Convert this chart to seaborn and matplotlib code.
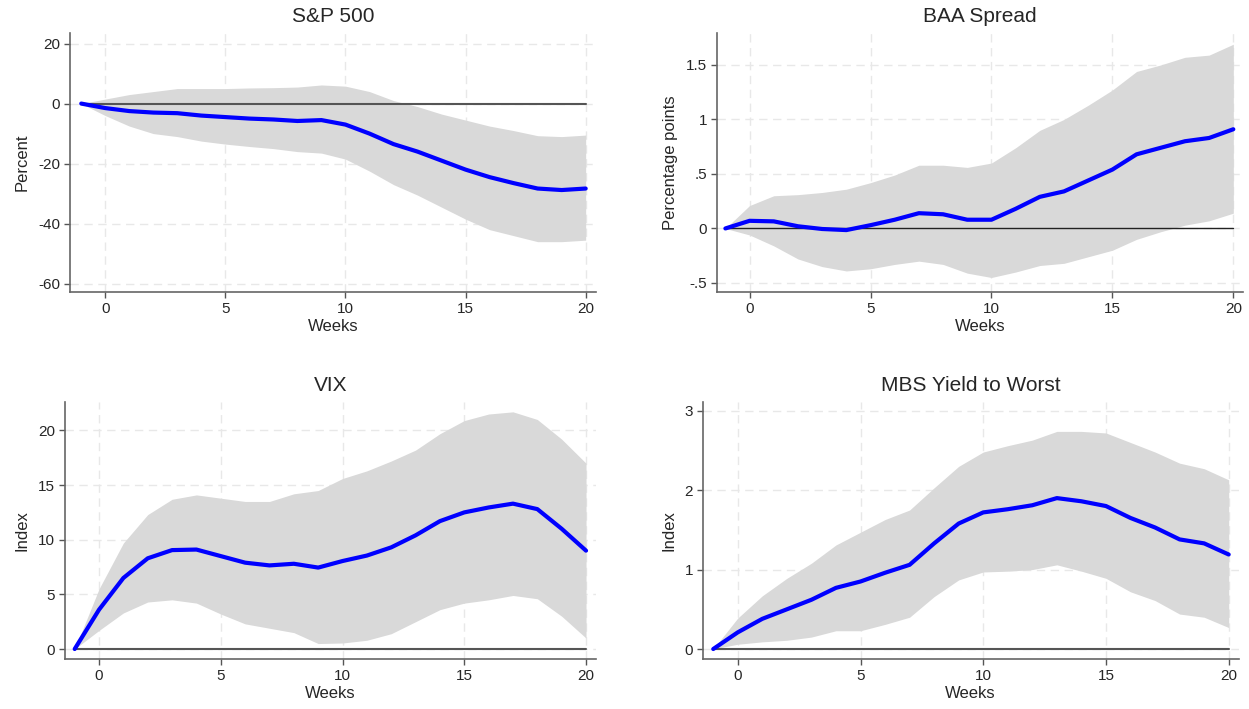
import numpy as np
import pandas as pd
import matplotlib
matplotlib.use("Agg")
import matplotlib.pyplot as plt
import seaborn as sns

# Horizon (weeks relative to the event)
weeks = list(range(-1, 21))

# S&P 500 (percent)
sp_irf = [0, -1.5, -2.5, -3.0, -3.2, -4.0, -4.5, -5.0, -5.3, -5.8, -5.5, -7.0,
          -10.0, -13.5, -16.0, -19.0, -22.0, -24.5, -26.5, -28.3, -28.8, -28.3]
sp_hi = [0, 1.5, 3.0, 4.0, 5.0, 5.0, 5.0, 5.2, 5.3, 5.5, 6.2, 5.8,
         4.0, 1.0, -1.0, -3.5, -5.5, -7.5, -9.0, -10.7, -11.0, -10.5]
sp_lo = [0, -4.0, -7.5, -10.0, -11.0, -12.5, -13.5, -14.3, -15.0, -16.0, -16.5, -18.5,
         -22.5, -27.0, -30.5, -34.5, -38.5, -42.0, -44.0, -46.0, -46.0, -45.5]

# BAA spread (percentage points)
baa_irf = [0, 0.07, 0.065, 0.02, -0.005, -0.015, 0.03, 0.08, 0.14, 0.13, 0.08, 0.08,
           0.18, 0.29, 0.34, 0.44, 0.54, 0.68, 0.74, 0.80, 0.83, 0.91]
baa_hi = [0, 0.21, 0.30, 0.31, 0.33, 0.36, 0.42, 0.49, 0.58, 0.58, 0.56, 0.60,
          0.74, 0.90, 1.00, 1.13, 1.27, 1.44, 1.50, 1.57, 1.59, 1.69]
baa_lo = [0, -0.06, -0.16, -0.28, -0.35, -0.39, -0.37, -0.33, -0.30, -0.33, -0.41, -0.45,
          -0.40, -0.34, -0.32, -0.26, -0.20, -0.10, -0.03, 0.03, 0.07, 0.14]

# VIX (index)
vix_irf = [0, 3.6, 6.5, 8.3, 9.05, 9.1, 8.5, 7.9, 7.65, 7.8, 7.45, 8.05,
           8.55, 9.3, 10.4, 11.7, 12.5, 12.95, 13.3, 12.8, 11.0, 9.0]
vix_hi = [0, 5.5, 9.7, 12.3, 13.7, 14.1, 13.8, 13.5, 13.5, 14.2, 14.5, 15.6,
          16.3, 17.2, 18.2, 19.7, 20.9, 21.5, 21.7, 21.0, 19.2, 17.0]
vix_lo = [0, 1.7, 3.3, 4.3, 4.5, 4.2, 3.2, 2.3, 1.9, 1.5, 0.5, 0.55,
          0.8, 1.4, 2.5, 3.6, 4.2, 4.5, 4.9, 4.6, 3.0, 1.0]

# MBS yield to worst (index)
mbs_irf = [0, 0.21, 0.38, 0.50, 0.62, 0.77, 0.85, 0.96, 1.06, 1.33, 1.58, 1.72,
           1.76, 1.81, 1.90, 1.86, 1.80, 1.65, 1.53, 1.38, 1.33, 1.19]
mbs_hi = [0, 0.39, 0.67, 0.89, 1.08, 1.31, 1.47, 1.63, 1.75, 2.03, 2.30, 2.48,
          2.56, 2.63, 2.74, 2.74, 2.72, 2.60, 2.48, 2.34, 2.27, 2.13]
mbs_lo = [0, 0.06, 0.09, 0.11, 0.15, 0.23, 0.23, 0.31, 0.40, 0.66, 0.87, 0.97,
          0.98, 1.00, 1.06, 0.98, 0.89, 0.72, 0.61, 0.44, 0.40, 0.27]

x_ticks = [0, 5, 10, 15, 20]

sns.set_style("white")
plt.rcParams["font.family"] = ["Liberation Sans", "DejaVu Sans"]


def stata_fmt(v):
    """Stata-style labels: .5, -.5, 1.5"""
    s = f"{v:g}"
    if s.startswith("0."):
        s = s[1:]
    elif s.startswith("-0."):
        s = "-" + s[2:]
    return s


def irf_panel(ax, title, ylabel, irf, lo, hi, yticks, ylim, xlim,
              zero_lw=1.5, zero_col="#555555"):
    df = pd.DataFrame({"Weeks": weeks, "irf": irf, "lo": lo, "hi": hi})

    # dashed light grid at tick positions
    for t in x_ticks:
        ax.axvline(t, color="#e8e8e8", lw=1, ls=(0, (6, 4)), zorder=0)
    for t in yticks:
        ax.axhline(t, color="#e8e8e8", lw=1, ls=(0, (6, 4)), zorder=0)

    ax.fill_between(df["Weeks"], df["lo"], df["hi"], color="#d9d9d9", lw=0, zorder=1)
    ax.plot([weeks[0], weeks[-1]], [0, 0], color=zero_col, lw=zero_lw, zorder=2)
    sns.lineplot(data=df, x="Weeks", y="irf", ax=ax, color="#0000ff", lw=3, zorder=3)

    ax.set_xlim(*xlim)
    ax.set_ylim(*ylim)
    ax.set_xticks(x_ticks)
    ax.set_yticks(yticks)
    ax.set_yticklabels([stata_fmt(t) for t in yticks])
    ax.set_title(title, fontsize=15, pad=8)
    ax.set_xlabel("Weeks", fontsize=12, labelpad=2)
    ax.set_ylabel(ylabel, fontsize=12, labelpad=6)
    ax.tick_params(axis="both", which="both", direction="out", length=4, width=1,
                   color="#555555", labelsize=11, pad=3, left=True, bottom=True)
    sns.despine(ax=ax)
    for side in ["left", "bottom"]:
        ax.spines[side].set_color("#666666")
        ax.spines[side].set_linewidth(1.2)


fig = plt.figure(figsize=(12.49, 7.09), dpi=100)

ax1 = fig.add_axes([0.056, 0.588, 0.421, 0.365])
ax2 = fig.add_axes([0.574, 0.588, 0.421, 0.365])
ax3 = fig.add_axes([0.052, 0.0705, 0.425, 0.3625])
ax4 = fig.add_axes([0.5626, 0.0705, 0.429, 0.3625])

irf_panel(ax1, "S&P 500", "Percent", sp_irf, sp_lo, sp_hi,
          [-60, -40, -20, 0, 20], (-62.8, 23.4), (-1.47, 20.42))
irf_panel(ax2, "BAA Spread", "Percentage points", baa_irf, baa_lo, baa_hi,
          [-0.5, 0, 0.5, 1, 1.5], (-0.584, 1.79), (-1.35, 20.39),
          zero_lw=1.0, zero_col="#222222")
irf_panel(ax3, "VIX", "Index", vix_irf, vix_lo, vix_hi,
          [0, 5, 10, 15, 20], (-0.915, 22.6), (-1.4, 20.4))
irf_panel(ax4, "MBS Yield to Worst", "Index", mbs_irf, mbs_lo, mbs_hi,
          [0, 1, 2, 3], (-0.126, 3.11), (-1.43, 20.4))

fig.savefig("out.png", dpi=100, facecolor="white")
